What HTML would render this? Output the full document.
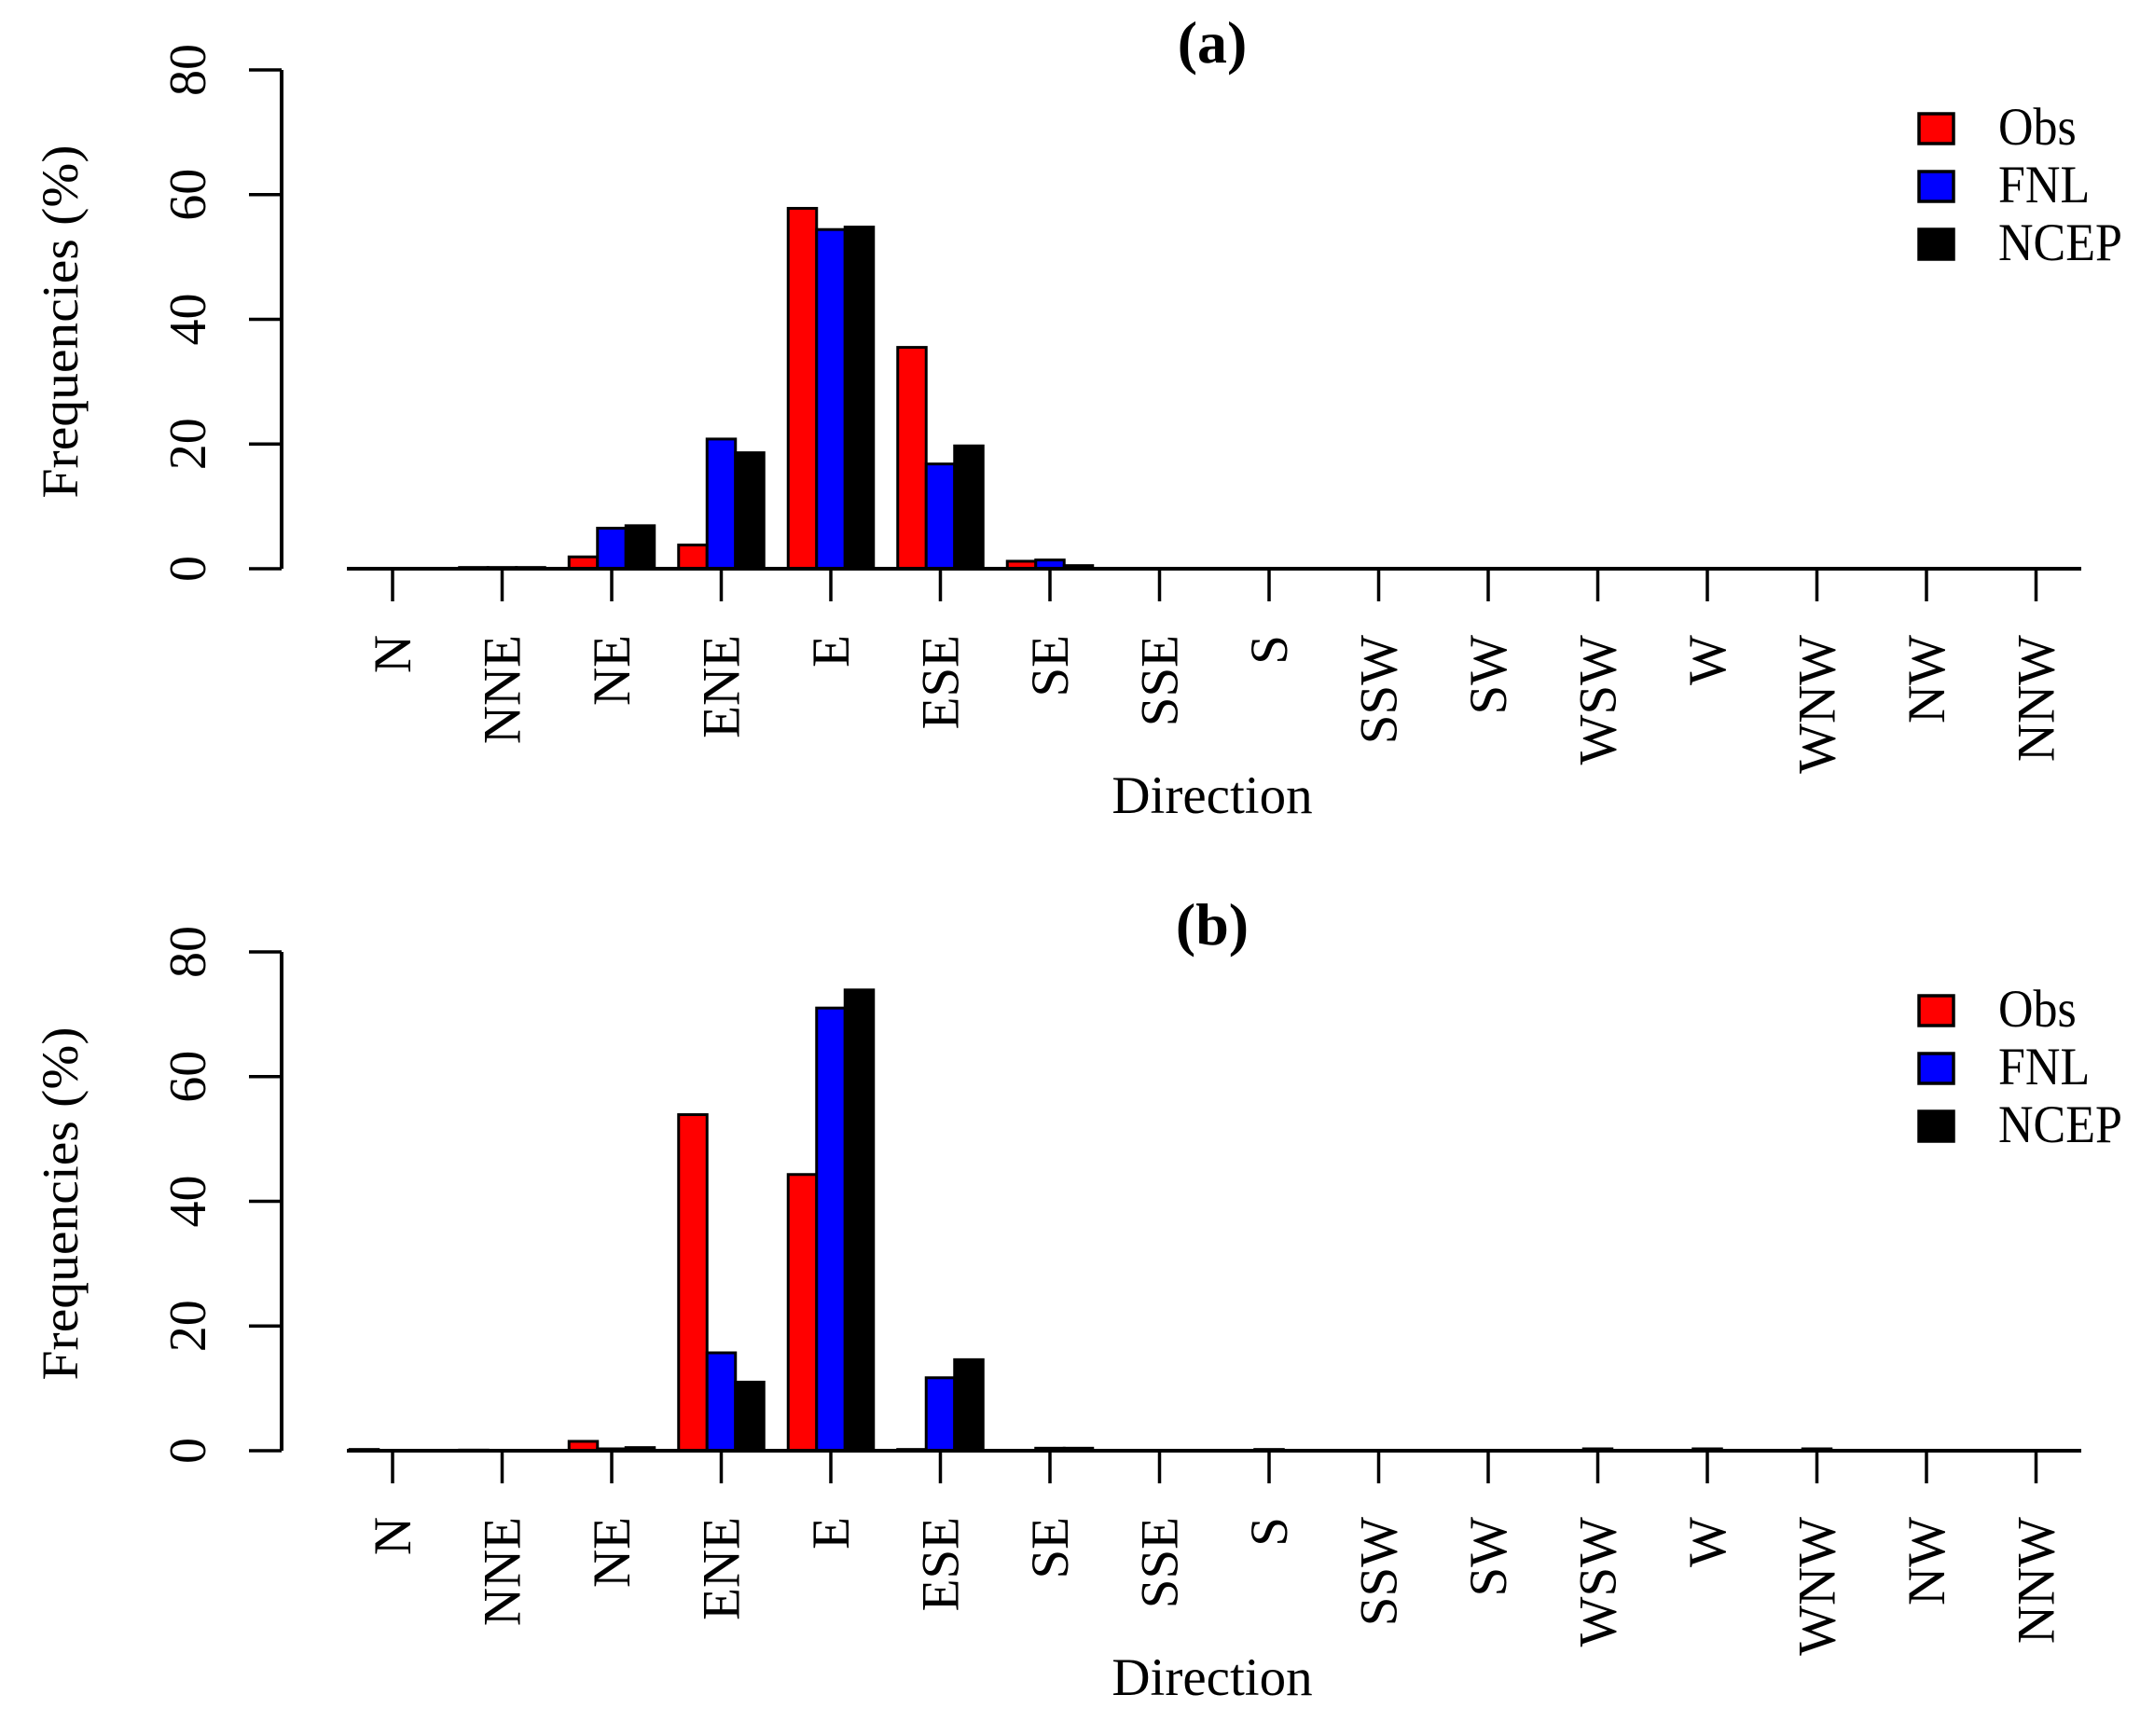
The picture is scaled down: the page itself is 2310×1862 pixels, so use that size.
<!DOCTYPE html>
<html><head><meta charset="utf-8">
<style>
html,body{margin:0;padding:0;background:#fff;}
svg{display:block;}
text{font-family:"Liberation Serif","DejaVu Serif",serif;fill:#000;}
</style></head>
<body>
<svg id="chart" width="2310" height="1862" viewBox="0 0 2310 1862" xmlns="http://www.w3.org/2000/svg"></svg>
<script>
const categories = ["N","NNE","NE","ENE","E","ESE","SE","SSE","S","SSW","SW","WSW","W","WNW","NW","NNW"];
const seriesNames = ["Obs","FNL","NCEP"];
const seriesColors = ["#ff0000","#0000ff","#000000"];
const yTicks = [0,20,40,60,80];
const panelTitles = ["(a)","(b)"];
const obsA  = [0,0.2,1.9,3.8,57.8,35.5,1.2,0,0,0,0,0,0,0,0,0];
const fnlA  = [0,0.2,6.5,20.8,54.4,16.8,1.4,0,0,0,0,0,0,0,0,0];
const ncepA = [0,0.2,6.9,18.6,54.8,19.7,0.5,0,0,0,0,0,0,0,0,0];
const obsB  = [0.2,0.1,1.5,53.9,44.3,0.2,0,0,0,0,0,0,0,0,0,0];
const fnlB  = [0,0,0.3,15.7,71.0,11.7,0.4,0,0.2,0,0,0.3,0.3,0.3,0,0];
const ncepB = [0,0,0.5,11.0,73.9,14.6,0.4,0,0,0,0,0,0,0,0,0];

const svg = document.getElementById('chart');
const NS = 'http://www.w3.org/2000/svg';
function mk(tag, attrs, parent){
  const e = document.createElementNS(NS, tag);
  for (const k in attrs) e.setAttribute(k, attrs[k]);
  (parent||svg).appendChild(e);
  return e;
}
const yMax = 80, tick0 = 421, tickStep = 117.5, barW = 30.5;
function xTick(i){ return tick0 + i*tickStep; }

function drawPanel(p, series, off){
  const base = 610 + off, top = 75 + off;
  const yS = v => base - v/yMax*(base-top);
  const g = mk('g', {});
  
  
  const t = mk('text', {x:1300, y:67+off, 'font-size':64, 'font-weight':'bold', 'text-anchor':'middle'}, g);
  t.textContent = panelTitles[p];
  
  
  series.forEach((vals, s) => {
    vals.forEach((v, i) => {
      if (v <= 0) return;
      const x = xTick(i) - 1.5*barW + s*barW;
      const r = mk('rect', {x:x, y:yS(v), width:barW, height:base-yS(v), fill:seriesColors[s], stroke:'#000', 'stroke-width':3}, g);
      
      
    });
  });
  const bl = mk('line', {x1:372, x2:2232, y1:base, y2:base, stroke:'#000', 'stroke-width':4}, g);
  
  
  categories.forEach((c, i) => {
    const x = xTick(i);
    const tk = mk('line', {x1:x, x2:x, y1:base, y2:base+35, stroke:'#000', 'stroke-width':3.5}, g);
    
    
    const lb = mk('text', {x:0, y:0, 'font-size':57, 'text-anchor':'end', transform:'translate(' + (x+19) + ',' + (base+71) + ') rotate(-90)'}, g);
    lb.textContent = c;
    
    
  });
  const ya = mk('line', {x1:302, x2:302, y1:top, y2:base, stroke:'#000', 'stroke-width':4}, g);
  
  
  yTicks.forEach(v => {
    const y = yS(v);
    const tk = mk('line', {x1:267, x2:302, y1:y, y2:y, stroke:'#000', 'stroke-width':3.5}, g);
    
    
    const lb = mk('text', {x:0, y:0, 'font-size':56, 'text-anchor':'middle', transform:'translate(220,' + y + ') rotate(-90)'}, g);
    lb.textContent = v;
    
    
  });
  const yt = mk('text', {x:0, y:0, 'font-size':55, 'text-anchor':'middle', textLength:379, lengthAdjust:'spacingAndGlyphs', transform:'translate(83,' + (345+off) + ') rotate(-90)'}, g);
  yt.textContent = 'Frequencies (%)';
  
  
  const xt = mk('text', {x:1300, y:872+off, 'font-size':57, 'text-anchor':'middle'}, g);
  xt.textContent = 'Direction';
  
  
  seriesNames.forEach((n, s) => {
    const cy = 138 + s*62 + off;
    const sq = mk('rect', {x:2058, y:cy-16, width:37, height:32, fill:seriesColors[s], stroke:'#000', 'stroke-width':3.5}, g);
    
    
    const lt = mk('text', {x:0, y:0, 'font-size':52, transform:'translate(2143,' + (cy+17) + ') scale(1,1.1)'}, g);
    lt.textContent = n;
    
    
  });
}
drawPanel(0, [obsA, fnlA, ncepA], 0);
drawPanel(1, [obsB, fnlB, ncepB], 946);
</script>
</body></html>
